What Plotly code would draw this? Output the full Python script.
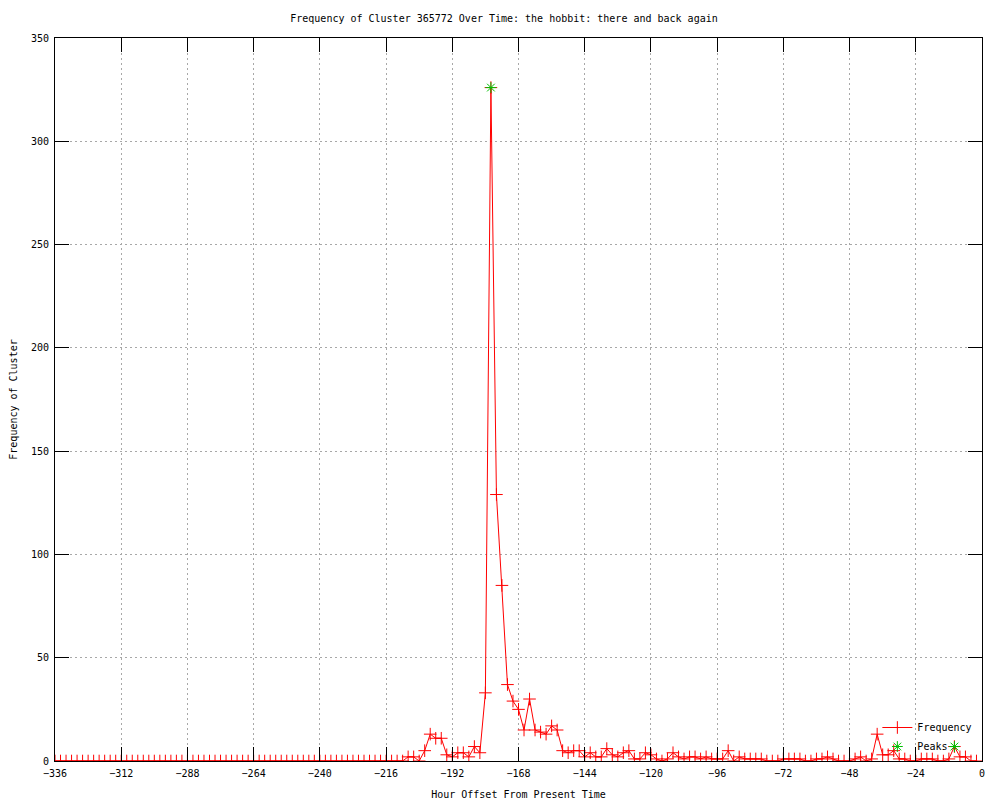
import plotly.graph_objects as go

TITLE = "Frequency of Cluster 365772 Over Time: the hobbit: there and back again"

# hour offsets, one sample every 2 hours
hours = list(range(-336, 0, 2))

frequency = [
    0, 0, 0, 0, 0, 0, 0, 0, 0, 0, 0, 0, 0, 0, 0, 0, 0, 0, 0, 0,
    0, 0, 0, 0, 0, 0, 0, 0, 0, 0, 0, 0, 0, 0, 0, 0, 0, 0, 0, 0,
    0, 0, 0, 0, 0, 0, 0, 0, 0, 0, 0, 0, 0, 0, 0, 0, 0, 0, 0, 0,
    0,
    # -214 .. -2
    0, 0, 0, 2, 2, 0, 5, 13, 11, 11, 3, 2, 4, 4, 2, 7, 4, 33,
    326, 129, 85, 37, 29, 25, 15, 30, 15, 14, 13, 17, 15, 5, 4, 5, 5,
    2, 4, 2, 2, 6, 3, 2, 4, 5, 1, 1, 4, 3, 1, 0, 1, 4, 2, 1, 2, 2,
    1, 2, 1, 1, 1, 5, 0, 2, 1, 1, 1, 1, 0, 0, 0, 1, 1, 1, 1, 0, 0,
    1, 1, 2, 1, 0, 0, 0, 1, 2, 0, 1, 13, 3, 3, 5, 1, 1, 0, 0, 1, 1,
    1, 0, 0, 1, 7, 2, 2, 0, 0,
]

peak_hours = [-178, -10]
peak_values = [326, 7]

FONT = "DejaVu Sans Mono"
GREEN = "#00c000"

fig = go.Figure()
fig.add_trace(go.Scatter(
    x=hours, y=frequency, mode="lines+markers", name="Frequency",
    line={"color": "#ff0000", "width": 1},
    marker={"symbol": "cross-thin-open", "size": 9, "color": "#ff0000",
            "line": {"color": "#ff0000", "width": 1}},
))
fig.add_trace(go.Scatter(
    x=peak_hours, y=peak_values, mode="markers", name="Peaks",
    marker={"symbol": "asterisk-open", "size": 9, "color": GREEN,
            "line": {"color": GREEN, "width": 1}},
))

axis_style = {
    "showline": True, "linecolor": "black", "linewidth": 1, "mirror": "allticks",
    "ticks": "inside", "ticklen": 14, "tickcolor": "black", "automargin": False,
    "ticklabelstandoff": 3,
    "showgrid": True, "gridcolor": "#a8a8a8", "griddash": "2px,3px", "gridwidth": 1,
    "zeroline": False, "tickfont": {"family": FONT, "size": 10, "color": "black"},
}

# the page body adds an 8px margin, so the figure is a bit smaller than the window
fig.update_layout(
    width=992, height=792,
    paper_bgcolor="white", plot_bgcolor="white",
    font={"family": FONT, "size": 10, "color": "black"},
    margin={"l": 47, "r": 18, "t": 30, "b": 39, "autoexpand": False},
    title={"text": TITLE, "x": 0.5, "xanchor": "center", "y": 0.987, "yanchor": "middle",
           "font": {"family": FONT, "size": 10}},
    xaxis={**axis_style, "range": [-336, 0], "tick0": 0, "dtick": 24,
           "title": {"text": "Hour Offset From Present Time", "standoff": 12,
                     "font": {"family": FONT, "size": 10}}},
    yaxis={**axis_style, "range": [0, 350], "tick0": 0, "dtick": 50,
           "title": {"text": "Frequency of Cluster", "standoff": 14,
                     "font": {"family": FONT, "size": 10}}},
    legend={"x": 0.995, "xanchor": "right", "y": 0.0, "yanchor": "bottom",
            "bgcolor": "rgba(0,0,0,0)", "font": {"family": FONT, "size": 10},
            "tracegroupgap": 0, "itemwidth": 30},
    showlegend=True,
)

fig.write_html("out.html")
